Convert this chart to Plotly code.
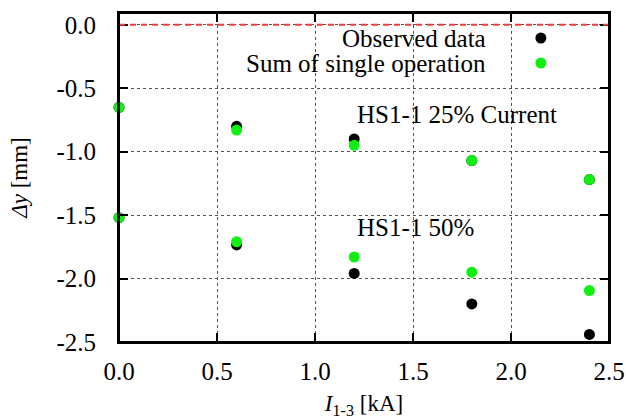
import plotly.graph_objects as go

# Coil current I_1-3 [kA]
current_ka = [0.0, 0.6, 1.2, 1.8, 2.4]

# HS1-1 at 25% current: vertical displacement [mm]
obs_25 = [-0.65, -0.80, -0.90, -1.07, -1.22]
sum_25 = [-0.65, -0.83, -0.95, -1.07, -1.22]

# HS1-1 at 50% current: vertical displacement [mm]
obs_50 = [-1.52, -1.735, -1.96, -2.20, -2.44]
sum_50 = [-1.52, -1.71, -1.83, -1.95, -2.095]

x_ticks = [0.0, 0.5, 1.0, 1.5, 2.0, 2.5]
y_ticks = [0.0, -0.5, -1.0, -1.5, -2.0, -2.5]

BLACK = "#000000"
GREEN = "#11ee11"
FONT = "Liberation Serif"

fig = go.Figure()
marker_size = 11
for ys, col in [(obs_25, BLACK), (obs_50, BLACK), (sum_25, GREEN), (sum_50, GREEN)]:
    fig.add_trace(go.Scatter(x=current_ka, y=ys, mode="markers",
                             marker=dict(color=col, size=marker_size, line=dict(width=0)),
                             showlegend=False, cliponaxis=False))

# Opaque key box over the grid near the top
fig.add_shape(type="rect", xref="paper", yref="y", x0=0, x1=1, y0=-0.39, y1=-0.03,
              fillcolor="white", line=dict(width=0), layer="between")
# Zero reference line
fig.add_shape(type="line", xref="paper", yref="y", x0=0, x1=1, y0=0, y1=0,
              line=dict(color="#f03c3c", width=2, dash="6px,5px"), layer="above")
# Plot frame
fig.add_shape(type="rect", xref="paper", yref="paper", x0=0, x1=1, y0=0, y1=1,
              line=dict(color=BLACK, width=2), layer="above")

# Key entries: text on the left, marker on the right
key_rows = [("Observed data", BLACK, 0.924), ("Sum of single operation", GREEN, 0.848)]
for label, col, yy in key_rows:
    fig.add_annotation(x=0.753, y=yy, xref="paper", yref="paper", text=label,
                       showarrow=False, xanchor="right", yanchor="middle",
                       font=dict(family=FONT, size=25, color="black"))
    fig.add_shape(type="circle", xref="paper", yref="paper",
                  x0=0.861 - 5.5 / 490, x1=0.861 + 5.5 / 490,
                  y0=yy - 5.5 / 329, y1=yy + 5.5 / 329,
                  fillcolor=col, line=dict(width=0))

fig.add_annotation(x=1.204, y=-0.71, text="HS1-1 25% Current", showarrow=False,
                   xanchor="left", yanchor="middle",
                   font=dict(family=FONT, size=25, color="black"))
fig.add_annotation(x=1.204, y=-1.60, text="HS1-1 50%", showarrow=False,
                   xanchor="left", yanchor="middle",
                   font=dict(family=FONT, size=25, color="black"))

axis_common = dict(
    showline=True, linecolor="black", linewidth=2, mirror="allticks",
    ticks="inside", ticklen=9, tickwidth=2, tickcolor="black",
    showgrid=True, gridcolor="#555555", gridwidth=1, griddash="dot",
    zeroline=False, automargin=False,
    tickfont=dict(family=FONT, size=25, color="black"),
)

fig.update_xaxes(range=[0, 2.5], tickvals=x_ticks,
                 ticktext=[f"{v:.1f}" for v in x_ticks], ticklabelstandoff=6,
                 title=dict(text="<i>I</i><sub>1-3</sub> [kA]", standoff=16,
                            font=dict(family=FONT, size=23, color="black")),
                 **axis_common)
fig.update_yaxes(range=[-2.5, 0.093], tickvals=y_ticks,
                 ticktext=[f"{v:.1f}" for v in y_ticks], ticklabelstandoff=16,
                 title=dict(text="<i>Δy</i> [mm]", standoff=22,
                            font=dict(family=FONT, size=23, color="black")),
                 **axis_common)

fig.update_layout(width=626, height=419, margin=dict(l=119, r=17, t=13, b=77),
                  font=dict(family=FONT, size=25, color="black"),
                  plot_bgcolor="white", paper_bgcolor="white", showlegend=False)

fig.write_html("out.html")
